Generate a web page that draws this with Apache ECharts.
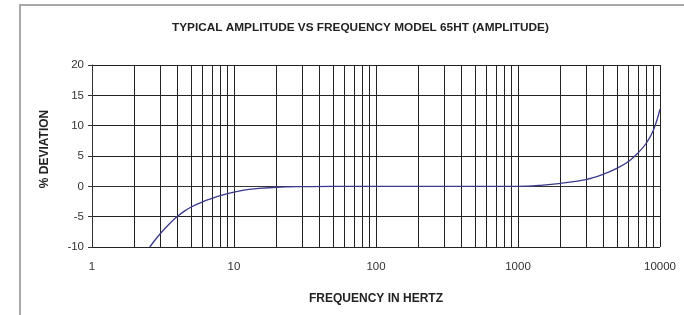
<!DOCTYPE html>
<html>
<head>
<meta charset="utf-8">
<script src="https://cdn.jsdelivr.net/npm/echarts@6/dist/echarts.min.js"></script>
<style>
html,body{margin:0;padding:0;background:#fff;}
#chart{width:684px;height:315px;}
</style>
</head>
<body>
<div id="chart"></div>
<script>
// Data
var frequencies = [2.55, 3, 3.5, 4, 4.5, 5, 6, 7, 8, 9, 10, 12, 15, 20, 30, 50, 100, 300, 1000, 1500, 2000, 3000, 4000, 5000, 6000, 7000, 8000, 9000, 10000];
var deviation   = [-10, -7.9, -6.2, -4.95, -4.05, -3.4, -2.55, -2.0, -1.55, -1.2, -0.95, -0.6, -0.35, -0.15, -0.05, 0, 0, 0, 0, 0.2, 0.5, 1.1, 2.0, 3.0, 4.1, 5.5, 7.1, 9.3, 12.7];
var minorGridFreqs = [2,3,4,5,6,7,8,9, 20,30,40,50,60,70,80,90, 200,300,400,500,600,700,800,900, 2000,3000,4000,5000,6000,7000,8000,9000];
var titleText = 'TYPICAL AMPLITUDE VS FREQUENCY MODEL 65HT (AMPLITUDE)';
var xTitle = 'FREQUENCY IN HERTZ';
var yTitle = '% DEVIATION';

var curve = frequencies.map(function (f, i) { return [f, deviation[i]]; });
var gridLines = minorGridFreqs.map(function (f) { return { xAxis: f }; });

var chart = echarts.init(document.getElementById('chart'), null, { renderer: 'canvas' });
var font = 'Liberation Sans, Arial, sans-serif';
chart.setOption({
  animation: false,
  backgroundColor: '#ffffff',
  title: {
    text: titleText,
    left: 167, top: 17,
    textStyle: { fontFamily: font, fontSize: 11.8, fontWeight: 'bold', color: '#222' }
  },
  graphic: [{
    type: 'rect',
    shape: { x: 20, y: 5, width: 720, height: 340 },
    style: { fill: 'none', stroke: '#a8a8a8', lineWidth: 2 },
    silent: true
  }, {
    type: 'text',
    x: 45, y: 149, rotation: Math.PI / 2,
    style: { text: yTitle, font: 'bold 12px Liberation Sans, Arial, sans-serif', fill: '#222',
      align: 'center', verticalAlign: 'middle' },
    silent: true
  }],
  grid: { left: 92, right: 24, top: 65, bottom: 68, containLabel: false },
  xAxis: {
    type: 'log', logBase: 10, min: 1, max: 10000,
    name: xTitle, nameLocation: 'middle', nameGap: 46,
    nameTextStyle: { fontFamily: font, fontSize: 12, fontWeight: 'bold', color: '#222' },
    axisLine: { show: true, lineStyle: { color: '#333', width: 1 } },
    axisTick: { show: true, length: 3, lineStyle: { color: '#333' } },
    axisLabel: { fontFamily: font, fontSize: 11.5, color: '#333', margin: 14,
      formatter: function (v) { return String(Math.round(v)); } },
    splitLine: { show: true, lineStyle: { color: '#222', width: 1 } },
    minorTick: { show: false },
    minorSplitLine: { show: false }
  },
  yAxis: {
    type: 'value', min: -10, max: 20, interval: 5,
    axisLine: { show: true, lineStyle: { color: '#333', width: 1 } },
    axisTick: { show: true, length: 4, lineStyle: { color: '#333' } },
    axisLabel: { fontFamily: font, fontSize: 11.5, color: '#333', margin: 8 },
    splitLine: { show: true, lineStyle: { color: '#222', width: 1 } }
  },
  series: [
    {
      type: 'line', data: [], z: 1, silent: true,
      markLine: {
        silent: true, symbol: 'none', animation: false,
        label: { show: false },
        lineStyle: { color: '#222', width: 1, type: 'solid' },
        emphasis: { disabled: true },
        data: gridLines
      }
    },
    {
      type: 'line', data: curve, z: 5,
      showSymbol: false, smooth: 0.4,
      lineStyle: { color: '#3a3a8c', width: 1.3 },
      clip: true
    }
  ]
});
</script>
</body>
</html>
